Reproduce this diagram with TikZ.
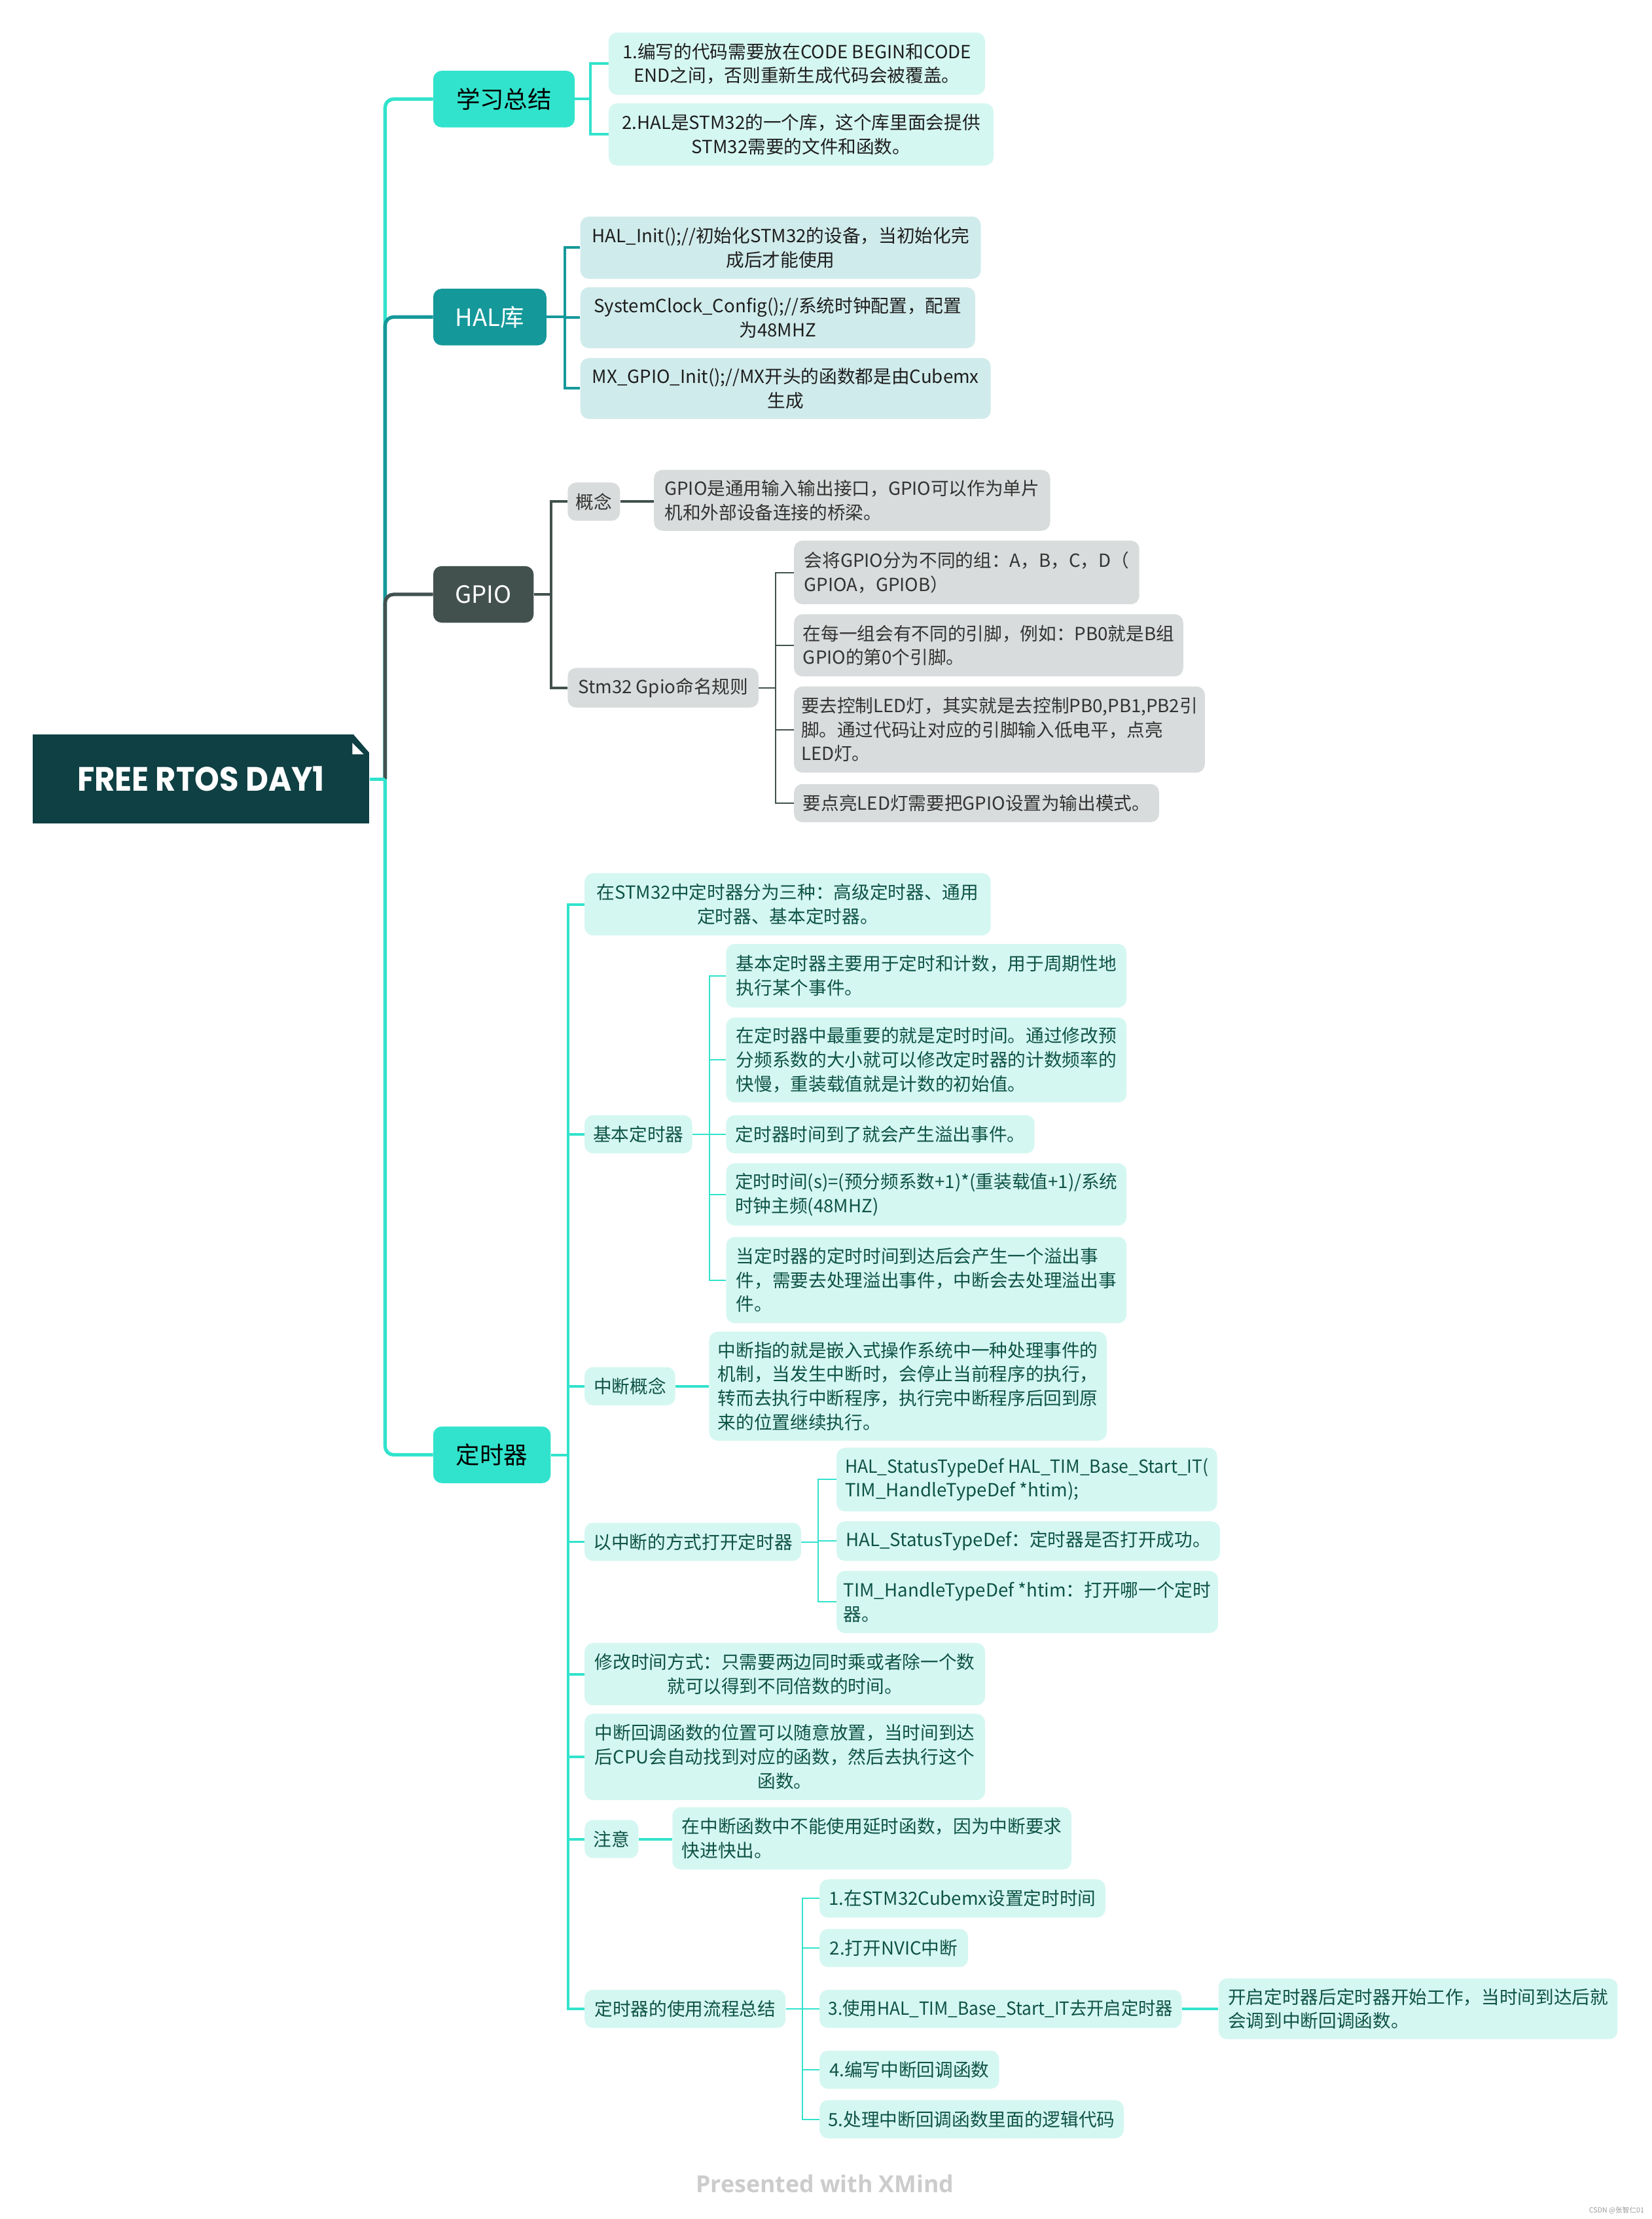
\documentclass[tikz,border=0pt]{standalone}
\usepackage{fontspec}
\setmainfont{Noto Sans CJK SC}
\newfontfamily\rootfont{Poppins}
\newfontfamily\footfont{Open Sans}
\definecolor{turq}{HTML}{31E3CC}
\definecolor{teal2}{HTML}{14989A}
\definecolor{gpgray}{HTML}{42514E}
\definecolor{rootc}{HTML}{0F4043}
\definecolor{lightc}{HTML}{D5F7F1}
\definecolor{halfill}{HTML}{D0EBEB}
\definecolor{gpfill}{HTML}{D9DCDC}
\definecolor{tgreen}{HTML}{0E5347}
\definecolor{txtdark}{HTML}{1E1E1E}
\definecolor{gptext}{HTML}{333333}
\pgfdeclarelayer{background}
\pgfsetlayers{background,main}
\tikzset{
  every node/.style={inner ysep=0pt, inner xsep=0.25cm},
  tb/.style={rounded corners=0.3cm, font=\fontsize{18.2}{24.2}\selectfont},
  ltq/.style={tb, fill=lightc, text=tgreen},
  lsum/.style={tb, fill=lightc, text=txtdark},
  lhal/.style={tb, fill=halfill, text=txtdark},
  lgp/.style={tb, fill=gpfill, text=gptext},
  lone/.style={rounded corners=0.3cm, font=\fontsize{24}{28}\selectfont},
  rl/.style={line width=3.5pt},
  ltwo/.style={line width=2.6pt},
  lthree/.style={line width=1.3pt},
}
\newcommand\bx[8]{\node[#2,anchor=west,minimum width=#5*0.05cm,minimum height=#6*0.05cm,align=#7] (#1) at ({#3},{#4+#6/2}) {#8};}
\begin{document}
\begin{tikzpicture}[x=0.05cm,y=-0.05cm]
\useasboundingbox (0,0) rectangle (1167,1568);
% root
\node[fill=rootc, minimum width=238*0.05cm, minimum height=63*0.05cm, inner sep=0] (root) at (142,550.5)
  {\scalebox{0.93}[1]{\rootfont\bfseries\fontsize{34}{40}\selectfont\color{white}FREE RTOS DAY1}};
\fill[white] (261,518) -- (249,518) -- (262,533) -- cycle;
\fill[white] (249,525) -- (249,533) -- (257,533) -- cycle;
\coordinate (hub) at ([xshift=11*0.05cm]root.east);
% level 1
\bx{s1}{lone,fill=turq,text=black}{306}{50}{100}{40}{center}{学习总结}
\bx{s2}{lone,fill=teal2,text=white}{306}{204}{80}{40}{center}{HAL库}
\bx{s3}{lone,fill=gpgray,text=white}{306}{400}{71}{40}{center}{GPIO}
\bx{s4}{lone,fill=turq,text=black}{306}{1008}{83}{40}{center}{定时器}
% 学习总结
\bx{A1}{lsum}{430}{23}{266}{44}{center}{1.编写的代码需要放在CODE BEGIN和CODE\\END之间，否则重新生成代码会被覆盖。}
\bx{A2}{lsum}{430}{73}{272}{44}{center}{2.HAL是STM32的一个库，这个库里面会提供\\STM32需要的文件和函数。}
% HAL
\bx{B1}{lhal}{410}{153}{283}{44}{center}{HAL\_Init();//初始化STM32的设备，当初始化完\\成后才能使用}
\bx{B2}{lhal}{410}{203}{279}{43}{center}{SystemClock\_Config();//系统时钟配置，配置\\为48MHZ}
\bx{B3}{lhal}{410}{253}{290}{43}{center}{MX\_GPIO\_Init();//MX开头的函数都是由Cubemx\\生成}
% GPIO
\bx{G1}{lgp}{401}{341}{37}{27}{center}{概念}
\bx{G1a}{lgp}{462}{332}{280}{43}{left}{GPIO是通用输入输出接口，GPIO可以作为单片\\机和外部设备连接的桥梁。}
\bx{G2}{lgp}{401}{472}{135}{28}{center}{Stm32 Gpio命名规则}
\bx{G2a}{lgp}{561}{382}{244}{45}{left}{会将GPIO分为不同的组：A，B，C，D（\\GPIOA，GPIOB）}
\bx{G2b}{lgp}{561}{434}{275}{44}{left}{在每一组会有不同的引脚，例如：PB0就是B组\\GPIO的第0个引脚。}
\bx{G2c}{lgp}{561}{485}{290}{61}{left}{要去控制LED灯，其实就是去控制PB0,PB1,PB2引\\脚。通过代码让对应的引脚输入低电平，点亮\\LED灯。}
\bx{G2d}{lgp}{561}{554}{258}{27}{left}{要点亮LED灯需要把GPIO设置为输出模式。}
% 定时器
\bx{T1}{ltq}{413}{617}{287}{44}{center}{在STM32中定时器分为三种：高级定时器、通用\\定时器、基本定时器。}
\bx{T2}{ltq}{413}{788}{76}{27}{center}{基本定时器}
\bx{T2a}{ltq}{513}{667}{283}{45}{left}{基本定时器主要用于定时和计数，用于周期性地\\执行某个事件。}
\bx{T2b}{ltq}{513}{719}{283}{60}{left}{在定时器中最重要的就是定时时间。通过修改预\\分频系数的大小就可以修改定时器的计数频率的\\快慢，重装载值就是计数的初始值。}
\bx{T2c}{ltq}{513}{788}{218}{27}{left}{定时器时间到了就会产生溢出事件。}
\bx{T2d}{ltq}{513}{822}{283}{44}{left}{定时时间(s)=(预分频系数+1)*(重装载值+1)/系统\\时钟主频(48MHZ)}
\bx{T2e}{ltq}{513}{874}{283}{61}{left}{当定时器的定时时间到达后会产生一个溢出事\\件，需要去处理溢出事件，中断会去处理溢出事\\件。}
\bx{T3}{ltq}{413}{966}{64}{27}{center}{中断概念}
\bx{T3a}{ltq}{501}{941}{281}{77}{left}{中断指的就是嵌入式操作系统中一种处理事件的\\机制，当发生中断时，会停止当前程序的执行，\\转而去执行中断程序，执行完中断程序后回到原\\来的位置继续执行。}
\bx{T4}{ltq}{413}{1076}{153}{27}{center}{以中断的方式打开定时器}
\bx{T4a}{ltq}{591}{1023}{269}{45}{left}{\scalebox{0.96}[1]{HAL\_StatusTypeDef HAL\_TIM\_Base\_Start\_IT(}\\TIM\_HandleTypeDef *htim);}
\bx{T4b}{ltq}{591}{1075}{271}{28}{left}{HAL\_StatusTypeDef：定时器是否打开成功。}
\bx{T4c}{ltq}{591}{1110}{268}{44}{left}{TIM\_HandleTypeDef *htim：打开哪一个定时\\器。}
\bx{T5}{ltq}{413}{1161}{283}{44}{center}{修改时间方式：只需要两边同时乘或者除一个数\\就可以得到不同倍数的时间。}
\bx{T6}{ltq}{413}{1211}{283}{61}{center}{中断回调函数的位置可以随意放置，当时间到达\\后CPU会自动找到对应的函数，然后去执行这个\\函数。}
\bx{T7}{ltq}{413}{1286}{38}{27}{center}{注意}
\bx{T7a}{ltq}{475}{1277}{282}{44}{left}{在中断函数中不能使用延时函数，因为中断要求\\快进快出。}
\bx{T8}{ltq}{413}{1406}{142}{27}{center}{定时器的使用流程总结}
\bx{T8a}{ltq}{579}{1328}{202}{27}{left}{1.在STM32Cubemx设置定时时间}
\bx{T8b}{ltq}{579}{1363}{105}{27}{left}{2.打开NVIC中断}
\bx{T8c}{ltq}{579}{1406}{256}{27}{left}{\scalebox{0.95}[1]{3.使用HAL\_TIM\_Base\_Start\_IT去开启定时器}}
\bx{T8c1}{ltq}{861}{1398}{282}{43}{left}{开启定时器后定时器开始工作，当时间到达后就\\会调到中断回调函数。}
\bx{T8d}{ltq}{579}{1449}{127}{27}{left}{4.编写中断回调函数}
\bx{T8e}{ltq}{579}{1484}{215}{27}{left}{5.处理中断回调函数里面的逻辑代码}
% footer
\node[font=\footfont\bfseries\fontsize{23.5}{27}\selectfont, text=black!20] (foot) at (583,1543) {Presented with XMind};
\node[font=\fontsize{7}{8}\selectfont, text=black!40, anchor=east, inner sep=0] (wm) at (1162,1562) {CSDN @张智仁01};
% connectors
\begin{pgfonlayer}{background}
\draw[rl, turq, rounded corners=0.3cm] (hub) |- (s1.west);
\draw[rl, teal2, rounded corners=0.3cm] (hub) |- (s2.west);
\draw[rl, gpgray, rounded corners=0.3cm] (hub) |- (s3.west);
\draw[rl, turq, rounded corners=0.3cm] (hub) |- (s4.west);
\draw[rl, turq] (root.east) -- (hub);
\foreach \c in {A1,A2} \draw[ltwo, turq] (s1.east) -- ++(11,0) |- (\c.west);
\foreach \c in {B1,B2,B3} \draw[ltwo, teal2] (s2.east) -- ++(13,0) |- (\c.west);
\foreach \c in {G1,G2} \draw[ltwo, gpgray] (s3.east) -- ++(12,0) |- (\c.west);
\draw[ltwo, gpgray] (G1.east) -- (G1.east -| G1a.west);
\foreach \c in {G2a,G2b,G2c,G2d} \draw[lthree, gpgray] (G2.east) -- ++(12,0) |- (\c.west);
\foreach \c in {T1,T2,T3,T4,T5,T6,T7,T8} \draw[ltwo, turq] (s4.east) -- ++(12,0) |- (\c.west);
\foreach \c in {T2a,T2b,T2c,T2d,T2e} \draw[lthree, turq] (T2.east) -- ++(12,0) |- (\c.west);
\draw[ltwo, turq] (T3.east) -- (T3.east -| T3a.west);
\foreach \c in {T4a,T4b,T4c} \draw[lthree, turq] (T4.east) -- ++(12,0) |- (\c.west);
\draw[ltwo, turq] (T7.east) -- (T7.east -| T7a.west);
\foreach \c in {T8a,T8b,T8c,T8d,T8e} \draw[lthree, turq] (T8.east) -- ++(12,0) |- (\c.west);
\draw[ltwo, turq] (T8c.east) -- (T8c.east -| T8c1.west);
\end{pgfonlayer}
\end{tikzpicture}
\end{document}
